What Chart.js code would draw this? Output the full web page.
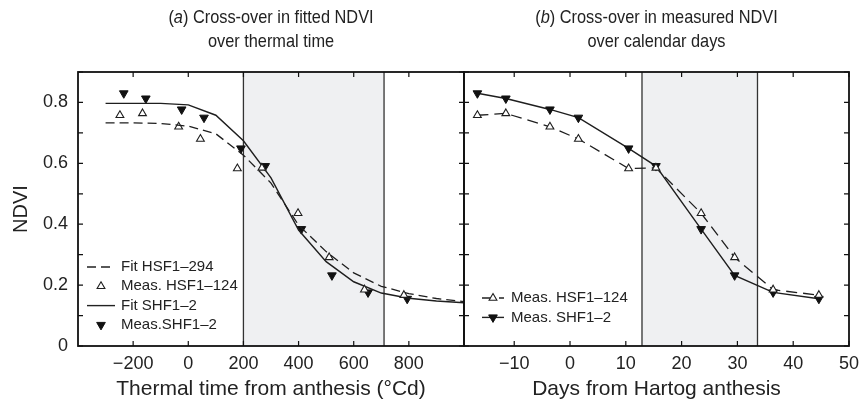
<!DOCTYPE html>
<html>
<head>
<meta charset="utf-8">
<script src="https://cdn.jsdelivr.net/npm/chart.js@4.4.1/dist/chart.umd.min.js"></script>
<style>
  html, body { margin: 0; padding: 0; background: #fff; }
  #wrap { position: relative; width: 860px; height: 405px; overflow: hidden; }
  #wrap canvas { position: absolute; top: 0; }
  #chartA { left: 0; }
  #chartB { left: 440px; }
</style>
</head>
<body>
<div id="wrap">
  <canvas id="chartA" width="480" height="405"></canvas>
  <canvas id="chartB" width="420" height="405"></canvas>
</div>
<script>
// fitted curves (panel a), every 100 °Cd
const fitThermal = [-300, -200, -100, 0, 100, 200, 300, 400, 500, 600, 700, 800, 900, 1000];
const fitHSF = [0.733, 0.733, 0.731, 0.722, 0.697, 0.627, 0.535, 0.397, 0.310, 0.240, 0.196, 0.172, 0.156, 0.146];
const fitSHF = [0.797, 0.797, 0.797, 0.792, 0.758, 0.674, 0.552, 0.381, 0.277, 0.211, 0.174, 0.157, 0.148, 0.142];

// measured NDVI, same samples shown against thermal time (a) and days (b)
const ndviHSF = [0.758, 0.764, 0.720, 0.680, 0.583, 0.585, 0.436, 0.291, 0.185, 0.167];
const ndviSHF = [0.830, 0.813, 0.777, 0.750, 0.649, 0.591, 0.384, 0.232, 0.176, 0.155];
const thermalHSF = [-248, -166, -35, 44, 178, 267, 398, 511, 639, 782];
const thermalSHF = [-234, -154, -24, 57, 191, 279, 410, 521, 652, 794];
const daysMeas = [-16.6, -11.5, -3.6, 1.5, 10.5, 15.4, 23.5, 29.5, 36.4, 44.6];

// axes
const thermalTicks = [-200, 0, 200, 400, 600, 800];
const dayTicks = [-10, 0, 10, 20, 30, 40, 50];
const ndviTicks = [0, 0.1, 0.2, 0.3, 0.4, 0.5, 0.6, 0.7, 0.8, 0.9];
const shadeThermal = [200, 710];
const shadeDays = [12.9, 33.6];

Chart.defaults.font.family = '"Liberation Sans", Arial, Helvetica, sans-serif';
Chart.defaults.color = '#222';

function pts(xs, ys) {
  return xs.map(function(x, i) { return { x: x, y: ys[i] }; });
}
function minus(v) {
  return String(v).replace('-', '\u2212');
}

// shading, frame, inward ticks, legend and title
const panelDecor = {
  id: 'panelDecor',
  beforeDatasetsDraw(chart, args, opts) {
    const ctx = chart.ctx, a = chart.chartArea, x = chart.scales.x;
    const x0 = x.getPixelForValue(opts.shade[0]);
    const x1 = x.getPixelForValue(opts.shade[1]);
    ctx.save();
    ctx.fillStyle = '#eff0f2';
    ctx.fillRect(x0, a.top, x1 - x0, a.bottom - a.top);
    ctx.strokeStyle = '#333';
    ctx.lineWidth = 1.3;
    ctx.beginPath();
    ctx.moveTo(x0, a.top); ctx.lineTo(x0, a.bottom);
    ctx.moveTo(x1, a.top); ctx.lineTo(x1, a.bottom);
    ctx.stroke();
    ctx.restore();
  },
  afterDatasetsDraw(chart, args, opts) {
    const ctx = chart.ctx, a = chart.chartArea;
    const x = chart.scales.x, y = chart.scales.y;
    const tl = 5;
    ctx.save();
    ctx.strokeStyle = '#111';
    ctx.lineWidth = 1.2;
    ctx.beginPath();
    opts.xTicks.forEach(function(v) {
      const px = x.getPixelForValue(v);
      ctx.moveTo(px, a.bottom); ctx.lineTo(px, a.bottom - tl);
      ctx.moveTo(px, a.top); ctx.lineTo(px, a.top + tl);
    });
    ndviTicks.forEach(function(v) {
      const py = y.getPixelForValue(v);
      ctx.moveTo(a.left, py); ctx.lineTo(a.left + tl, py);
      ctx.moveTo(a.right, py); ctx.lineTo(a.right - tl, py);
    });
    ctx.stroke();
    ctx.lineWidth = 1.8;
    ctx.strokeRect(a.left, a.top, a.right - a.left, a.bottom - a.top);
    ctx.restore();
  },
  afterDraw(chart, args, opts) {
    const ctx = chart.ctx, a = chart.chartArea, lg = opts.legend;
    const fam = Chart.defaults.font.family;
    ctx.save();
    // legend
    ctx.font = '15px ' + fam;
    ctx.textBaseline = 'middle';
    chart.data.datasets.forEach(function(ds, i) {
      const yy = a.bottom - lg.bottom + i * lg.gap;
      const lx = a.left + lg.lineX;
      ctx.strokeStyle = '#222';
      ctx.fillStyle = '#222';
      if (ds.showLine) {
        ctx.lineWidth = ds.borderWidth;
        ctx.setLineDash(ds.borderDash || []);
        ctx.beginPath();
        ctx.moveTo(lx, yy); ctx.lineTo(lx + lg.lineW, yy);
        ctx.stroke();
        ctx.setLineDash([]);
      }
      if (ds.pointRadius > 0) {
        ctx.fillStyle = ds.pointBackgroundColor;
        ctx.strokeStyle = ds.pointBorderColor;
        ctx.lineWidth = ds.pointBorderWidth;
        Chart.helpers.drawPoint(ctx, {
          pointStyle: ds.pointStyle, rotation: ds.rotation || 0,
          radius: ds.pointRadius, borderWidth: ds.pointBorderWidth
        }, lx + lg.lineW / 2, yy);
      }
      ctx.fillStyle = '#222';
      ctx.textAlign = 'left';
      ctx.fillText(ds.label, a.left + lg.textX, yy);
    });
    // two-line title with italic panel letter, slightly condensed
    const sx = 0.86, fs = '19px ';
    const cx = (a.left + a.right) / 2;
    const line1 = [['(', ''], [opts.letter, 'italic '], [opts.title[0], '']];
    let w = 0;
    line1.forEach(function(p) { ctx.font = p[1] + fs + fam; w += ctx.measureText(p[0]).width; });
    ctx.translate(cx, 0);
    ctx.scale(sx, 1);
    let tx = -w / 2;
    ctx.textAlign = 'left';
    line1.forEach(function(p) {
      ctx.font = p[1] + fs + fam;
      ctx.fillText(p[0], tx, 18);
      tx += ctx.measureText(p[0]).width;
    });
    ctx.font = fs + fam;
    ctx.textAlign = 'center';
    ctx.fillText(opts.title[1], 0, 42);
    ctx.restore();
  }
};

function ndviAxis(show) {
  return {
    type: 'linear', min: 0, max: 0.9, display: show,
    afterBuildTicks: function(s) { s.ticks = ndviTicks.map(function(v) { return { value: v }; }); },
    afterFit: function(s) { s.width = show ? 78 : 0; },
    grid: { display: false, drawTicks: false },
    border: { display: false },
    ticks: {
      padding: 10, font: { size: 18 }, color: '#222',
      callback: function(v) {
        const k = Math.round(v * 10);
        if (k % 2) return '';
        return k === 0 ? '0' : (k / 10).toFixed(1);
      }
    },
    title: { display: true, text: 'NDVI', font: { size: 20 }, color: '#222', padding: { top: 9, bottom: 0 } }
  };
}

function xAxis(min, max, tickVals, label) {
  return {
    type: 'linear', min: min, max: max,
    afterBuildTicks: function(s) { s.ticks = tickVals.map(function(v) { return { value: v }; }); },
    afterFit: function(s) { s.height = 59; s.paddingLeft = 0; s.paddingRight = 0; },
    grid: { display: false, drawTicks: false },
    border: { display: false },
    ticks: { padding: 7, font: { size: 18 }, color: '#222', maxRotation: 0, autoSkip: false, callback: minus },
    title: { display: true, text: label, font: { size: 21 }, color: '#222', padding: { top: 0, bottom: 3 } }
  };
}

const ink = '#1e1e1e';

new Chart(document.getElementById('chartA'), {
  type: 'scatter',
  data: {
    datasets: [
      { label: 'Fit HSF1\u2013294', data: pts(fitThermal, fitHSF), showLine: true,
        borderColor: ink, borderWidth: 1.3, borderDash: [9, 5], pointRadius: 0 },
      { label: 'Meas. HSF1\u2013124', data: pts(thermalHSF, ndviHSF), showLine: false,
        pointStyle: 'triangle', pointRadius: 4.5, pointBackgroundColor: '#fff',
        pointBorderColor: ink, pointBorderWidth: 1.1 },
      { label: 'Fit SHF1\u20132', data: pts(fitThermal, fitSHF), showLine: true,
        borderColor: ink, borderWidth: 1.4, pointRadius: 0 },
      { label: 'Meas.SHF1\u20132', data: pts(thermalSHF, ndviSHF), showLine: false,
        pointStyle: 'triangle', rotation: 180, pointRadius: 5, pointBackgroundColor: '#111',
        pointBorderColor: '#111', pointBorderWidth: 1 }
    ]
  },
  options: {
    responsive: false, animation: false, events: [],
    layout: { padding: { top: 72, right: 16, bottom: 0, left: 0 } },
    scales: {
      x: xAxis(-400, 1000, thermalTicks, 'Thermal time from anthesis (\u00B0Cd)'),
      y: ndviAxis(true)
    },
    plugins: {
      legend: { display: false }, tooltip: { enabled: false },
      panelDecor: {
        shade: shadeThermal, xTicks: thermalTicks, letter: 'a',
        title: [') Cross-over in fitted NDVI', 'over thermal time'],
        legend: { lineX: 9, lineW: 28, textX: 43, bottom: 79, gap: 19.3 }
      }
    }
  },
  plugins: [panelDecor]
});

new Chart(document.getElementById('chartB'), {
  type: 'scatter',
  data: {
    datasets: [
      { label: 'Meas. HSF1\u2013124', data: pts(daysMeas, ndviHSF), showLine: true,
        borderColor: ink, borderWidth: 1.3, borderDash: [11, 6],
        pointStyle: 'triangle', pointRadius: 4.5, pointBackgroundColor: '#fff',
        pointBorderColor: ink, pointBorderWidth: 1.1 },
      { label: 'Meas. SHF1\u20132', data: pts(daysMeas, ndviSHF), showLine: true,
        borderColor: ink, borderWidth: 1.4,
        pointStyle: 'triangle', rotation: 180, pointRadius: 5, pointBackgroundColor: '#111',
        pointBorderColor: '#111', pointBorderWidth: 1 }
    ]
  },
  options: {
    responsive: false, animation: false, events: [],
    layout: { padding: { top: 72, right: 11, bottom: 0, left: 24 } },
    scales: {
      x: xAxis(-19, 50, dayTicks, 'Days from Hartog anthesis'),
      y: ndviAxis(false)
    },
    plugins: {
      legend: { display: false }, tooltip: { enabled: false },
      panelDecor: {
        shade: shadeDays, xTicks: dayTicks, letter: 'b',
        title: [') Cross-over in measured NDVI', 'over calendar days'],
        legend: { lineX: 18, lineW: 22, textX: 47, bottom: 48, gap: 19.4 }
      }
    }
  },
  plugins: [panelDecor]
});
</script>
</body>
</html>
